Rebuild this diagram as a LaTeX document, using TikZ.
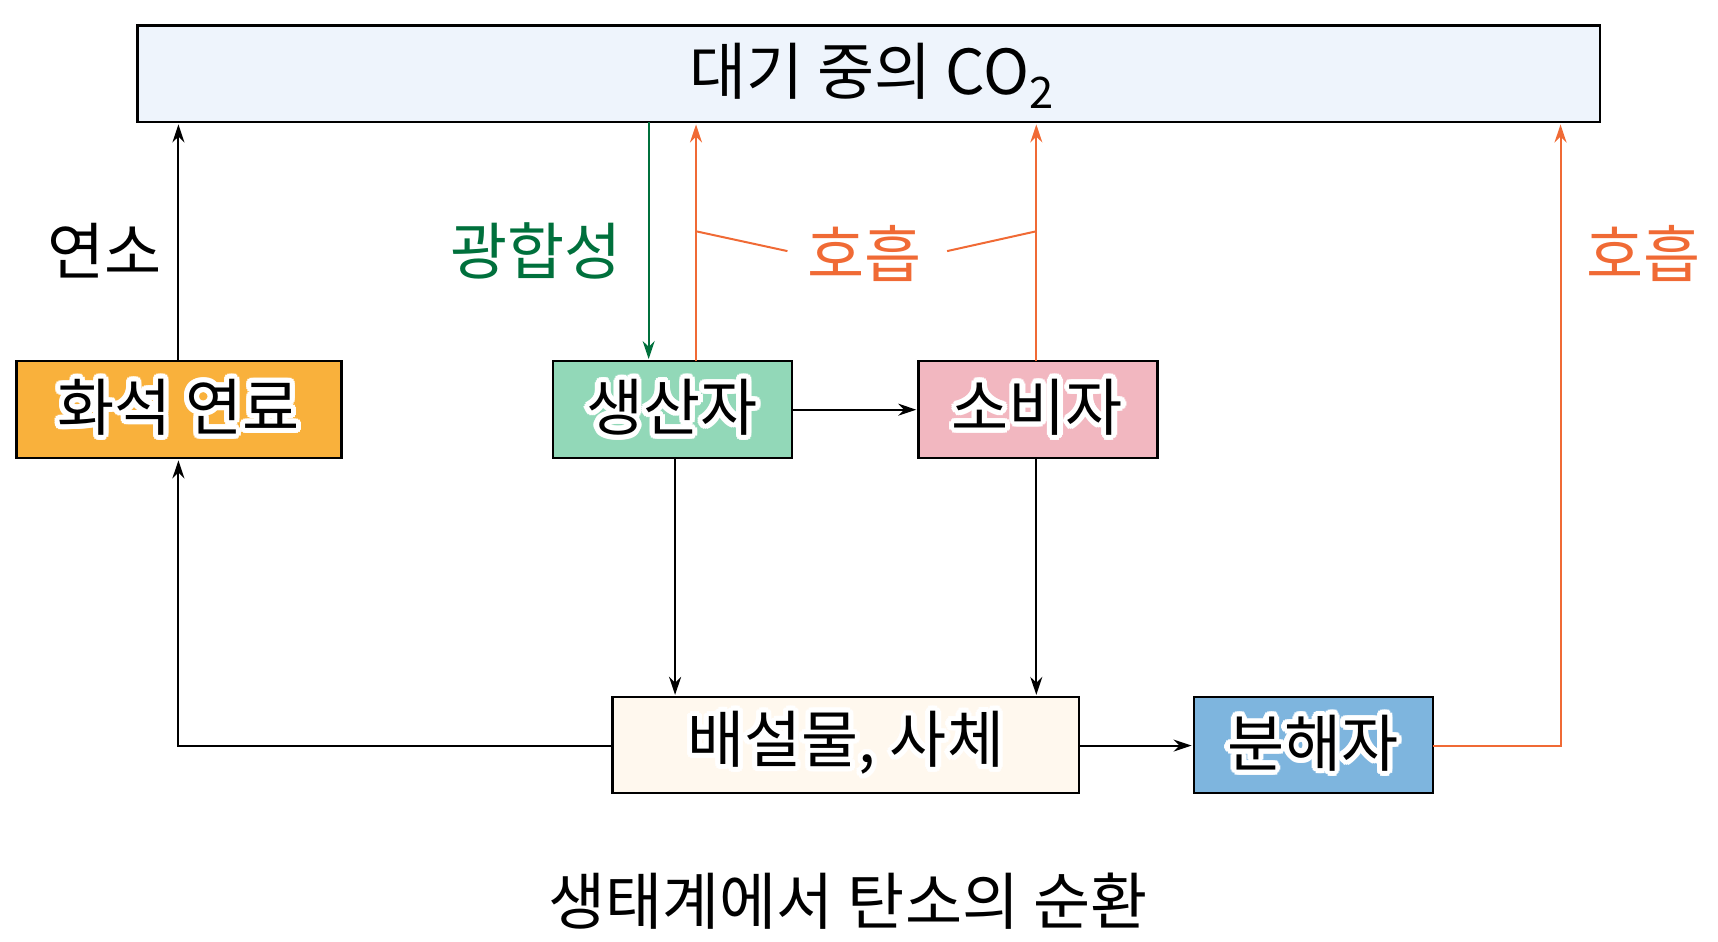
\documentclass[tikz,border=0pt]{standalone}
\usepackage{fontspec}
\setmainfont{Noto Sans CJK KR}
\usepackage[copies]{contour}
\contourlength{2.6pt}
\contournumber{16}
\usetikzlibrary{arrows.meta}
\definecolor{cblue}{HTML}{EEF4FC}
\definecolor{corange}{HTML}{F9B13C}
\definecolor{cgreen}{HTML}{92D8B8}
\definecolor{cpink}{HTML}{F2B7C0}
\definecolor{ccream}{HTML}{FFF8EE}
\definecolor{cdecomp}{HTML}{7EB5DE}
\definecolor{resp}{HTML}{F06A35}
\definecolor{photo}{HTML}{00703C}
\begin{document}
\begin{tikzpicture}[x=0.55pt,y=-0.55pt,
  box/.style={draw=black,line width=1.2pt,inner sep=0pt},
  lbl/.style={font=\fontsize{31}{36}\selectfont},
  btxt/.style={font=\fontsize{31}{36}\selectfont},
  arr/.style={line width=1pt,-{Stealth[length=9pt,width=6pt]}},
  ln/.style={line width=1pt}]
\useasboundingbox (0,0) rectangle (1560,855);
\draw[box,fill=cblue] (125,23) rectangle (1453,111);
\node[lbl] (co2) at (792,69) {대기 중의 CO\textsubscript{2}};
\draw[box,fill=corange] (15,328) rectangle (310,416);
\node[btxt] (fossil) at (162,372) {\contour{white}{화석 연료}};
\draw[box,fill=cgreen] (502,328) rectangle (719,416);
\node[btxt] (prod) at (610,372) {\contour{white}{생산자}};
\draw[box,fill=cpink] (834,328) rectangle (1051,416);
\node[btxt] (cons) at (942,372) {\contour{white}{소비자}};
\draw[box,fill=ccream] (556,633) rectangle (980,720);
\node[btxt] (waste) at (768,677) {\contour{white}{배설물, 사체}};
\draw[box,fill=cdecomp] (1084,633) rectangle (1301,720);
\node[btxt] (dec) at (1192,677) {\contour{white}{분해자}};
\node[lbl] (cap) at (770,818) {생태계에서 탄소의 순환};
% connectors
\coordinate (a1s) at (162,328); \coordinate (a1e) at (162,113);
\draw[arr] (a1s) -- (a1e);
\node[lbl] (burn) at (95,228) {연소};
\coordinate (g1) at (589,111); \coordinate (g2) at (589,326);
\draw[arr,draw=photo] (g1) -- (g2);
\node[lbl,text=photo] (ps) at (487,228) {광합성};
\coordinate (r1) at (632,328); \coordinate (r1e) at (632,113);
\coordinate (r2) at (941,328); \coordinate (r2e) at (941,113);
\draw[arr,draw=resp] (r1) -- (r1e);
\draw[arr,draw=resp] (r2) -- (r2e);
\node[lbl,text=resp] (resp1) at (785,230) {호흡};
\coordinate (l1) at (632,210); \coordinate (l1e) at (715,228);
\coordinate (l2) at (941,210); \coordinate (l2e) at (860,228);
\draw[ln,resp] (l1) -- (l1e); \draw[ln,resp] (l2) -- (l2e);
\coordinate (pc1) at (719,372); \coordinate (pc2) at (832,372);
\draw[arr] (pc1) -- (pc2);
\coordinate (pw1) at (613,416); \coordinate (pw2) at (613,631);
\draw[arr] (pw1) -- (pw2);
\coordinate (cw1) at (941,416); \coordinate (cw2) at (941,631);
\draw[arr] (cw1) -- (cw2);
\coordinate (wf1) at (556,677); \coordinate (wf2) at (162,418);
\draw[arr] (wf1) -- (162,677) -- (wf2);
\coordinate (wd1) at (980,677); \coordinate (wd2) at (1082,677);
\draw[arr] (wd1) -- (wd2);
\coordinate (dc1) at (1301,677); \coordinate (dc2) at (1417,113);
\draw[arr,draw=resp] (dc1) -- (1417,677) -- (dc2);
\node[lbl,text=resp] (resp2) at (1492,230) {호흡};
\end{tikzpicture}
\end{document}
